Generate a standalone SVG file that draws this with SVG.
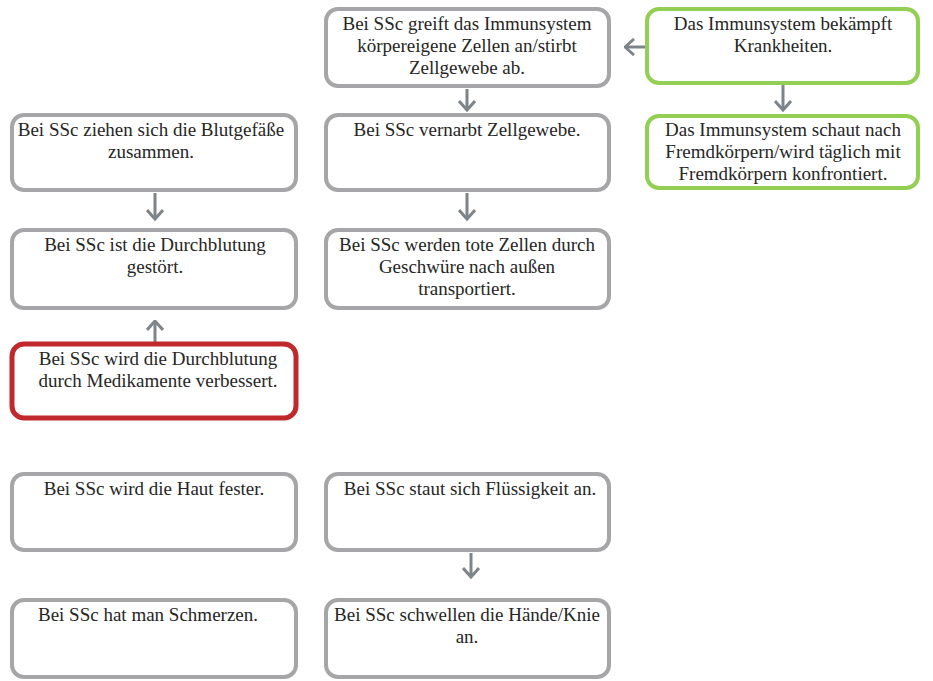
<svg xmlns="http://www.w3.org/2000/svg" width="933" height="681" viewBox="0 0 933 681">
  <style>
    .box { fill: #ffffff; stroke-width: 4; }
    .gray { stroke: #a6a6a8; }
    .green { stroke: #92cf52; }
    .red { stroke: #c0282c; stroke-width: 5; }
    text { font-family: "Liberation Serif", "Times New Roman", serif; font-size: 19px; fill: #262626; text-anchor: middle; }
    .conn line { stroke: #7d848a; stroke-width: 3; fill: none; }
  </style>
  <defs>
    <marker id="chev" viewBox="0 0 12 18" refX="10.5" refY="9" markerWidth="12" markerHeight="18" markerUnits="userSpaceOnUse" orient="auto">
      <path d="M1.5,1 L10.5,9 L1.5,17" fill="none" stroke="#7d848a" stroke-width="3"/>
    </marker>
  </defs>

  <rect width="933" height="681" fill="#ffffff"/>

  <!-- connectors -->
  <g id="connectors" class="conn">
    <line x1="646" y1="47" x2="625" y2="47" marker-end="url(#chev)"/>
    <line x1="467" y1="89" x2="467" y2="110" marker-end="url(#chev)"/>
    <line x1="783" y1="85" x2="783" y2="110" marker-end="url(#chev)"/>
    <line x1="155" y1="193" x2="155" y2="219" marker-end="url(#chev)"/>
    <line x1="467" y1="193" x2="467" y2="219" marker-end="url(#chev)"/>
    <line x1="155" y1="342" x2="155" y2="321" marker-end="url(#chev)"/>
    <line x1="471" y1="553" x2="471" y2="577" marker-end="url(#chev)"/>
  </g>

  <!-- nodes -->
  <g id="n-angriff">
    <rect class="box gray" x="326" y="9" width="283" height="77" rx="12"/>
    <text x="467" y="30">Bei SSc greift das Immunsystem</text>
    <text x="467" y="52">körpereigene Zellen an/stirbt</text>
    <text x="467" y="74">Zellgewebe ab.</text>
  </g>

  <g id="n-bekaempft">
    <rect class="box green" x="647" y="9" width="271" height="74" rx="12"/>
    <text x="783" y="30">Das Immunsystem bekämpft</text>
    <text x="783" y="52">Krankheiten.</text>
  </g>

  <g id="n-fremdkoerper">
    <rect class="box green" x="647" y="116" width="271" height="72" rx="12"/>
    <text x="783" y="136">Das Immunsystem schaut nach</text>
    <text x="783" y="158">Fremdkörpern/wird täglich mit</text>
    <text x="783" y="180">Fremdkörpern konfrontiert.</text>
  </g>

  <g id="n-blutgefaesse">
    <rect class="box gray" x="12" y="115" width="284" height="75" rx="12"/>
    <text x="151" y="136">Bei SSc ziehen sich die Blutgefäße</text>
    <text x="151" y="158">zusammen.</text>
  </g>

  <g id="n-vernarbt">
    <rect class="box gray" x="326" y="115" width="283" height="75" rx="12"/>
    <text x="467" y="136">Bei SSc vernarbt Zellgewebe.</text>
  </g>

  <g id="n-durchblutung">
    <rect class="box gray" x="12" y="230" width="284" height="78" rx="12"/>
    <text x="155" y="251">Bei SSc ist die Durchblutung</text>
    <text x="155" y="273">gestört.</text>
  </g>

  <g id="n-geschwuere">
    <rect class="box gray" x="326" y="230" width="283" height="78" rx="12"/>
    <text x="467" y="251">Bei SSc werden tote Zellen durch</text>
    <text x="467" y="273">Geschwüre nach außen</text>
    <text x="467" y="295">transportiert.</text>
  </g>

  <g id="n-medikamente">
    <rect class="box red" x="12" y="344" width="284" height="74" rx="12"/>
    <text x="158" y="365">Bei SSc wird die Durchblutung</text>
    <text x="158" y="387">durch Medikamente verbessert.</text>
  </g>

  <g id="n-haut">
    <rect class="box gray" x="12" y="474" width="284" height="76" rx="12"/>
    <text x="154" y="495">Bei SSc wird die Haut fester.</text>
  </g>

  <g id="n-fluessigkeit">
    <rect class="box gray" x="326" y="474" width="283" height="76" rx="12"/>
    <text x="470" y="495">Bei SSc staut sich Flüssigkeit an.</text>
  </g>

  <g id="n-schmerzen">
    <rect class="box gray" x="12" y="600" width="284" height="77" rx="12"/>
    <text x="148" y="621">Bei SSc hat man Schmerzen.</text>
  </g>

  <g id="n-schwellen">
    <rect class="box gray" x="326" y="600" width="283" height="77" rx="12"/>
    <text x="467" y="621">Bei SSc schwellen die Hände/Knie</text>
    <text x="467" y="643">an.</text>
  </g>
</svg>
